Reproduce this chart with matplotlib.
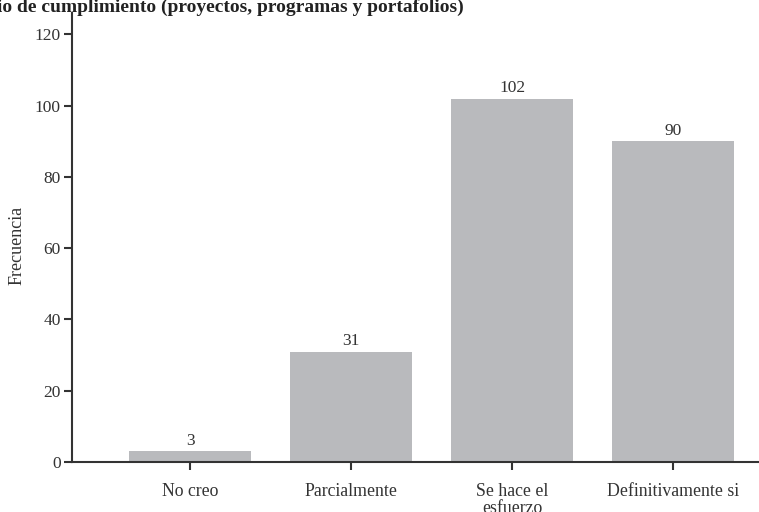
import matplotlib.pyplot as plt

categorias = ["No creo", "Parcialmente", "Se hace el\nesfuerzo", "Definitivamente si"]
frecuencias = [3, 31, 102, 90]
yticks = [0, 20, 40, 60, 80, 100, 120]

plt.rcParams['font.family'] = ['Liberation Serif', 'DejaVu Serif']
text_color = "#333333"

fig = plt.figure(figsize=(7.59, 5.12), dpi=100)
ax = fig.add_axes([72 / 759, 50 / 512, 1 - 72 / 759, (462 - 13) / 512])

x = list(range(len(categorias)))
bars = ax.bar(x, frecuencias, width=0.76, color="#b9babd")

for xi, v in zip(x, frecuencias):
    ax.annotate(str(v), (xi, v), xytext=(0, 2), textcoords="offset points",
                ha="center", va="bottom", fontsize=12.5, color=text_color)

ax.set_xlim(-0.733, 3.533)
ax.set_ylim(0, 126)
ax.set_xticks(x)
ax.set_xticklabels(categorias, fontsize=12.8, color=text_color, linespacing=1.0)
ax.set_yticks(yticks)
ax.tick_params(axis="y", labelsize=12.5, colors=text_color, length=6, width=1.5, pad=2)
ax.tick_params(axis="x", colors=text_color, length=6, width=1.5, pad=9)
ax.set_ylabel("Frecuencia", fontsize=13, color=text_color)
ax.yaxis.set_label_coords(-0.067, 0.483)

for s in ["top", "right"]:
    ax.spines[s].set_visible(False)
for s in ["left", "bottom"]:
    ax.spines[s].set_linewidth(1.5)
    ax.spines[s].set_color(text_color)

fig.text(-0.004, 1.003, "io de cumplimiento (proyectos, programas y portafolios)",
         fontsize=14, fontweight="bold", color="#222222", ha="left", va="top")

fig.savefig("out.png", dpi=100)
